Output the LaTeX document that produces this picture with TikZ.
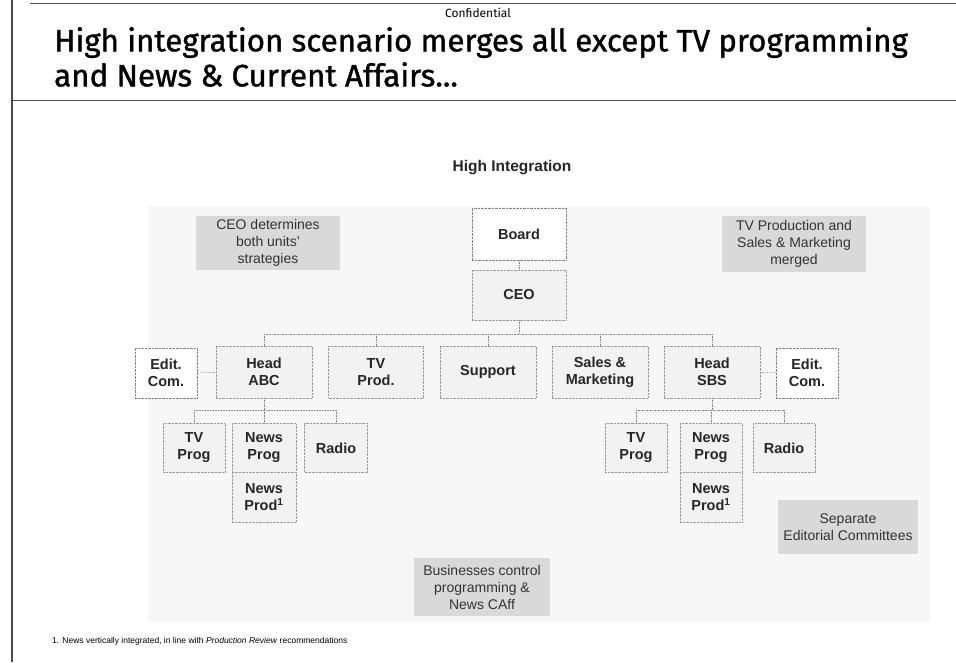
\documentclass[tikz,border=0pt]{standalone}
\usepackage{fontspec}
\setmainfont{Liberation Sans}
\newfontfamily\titlefont[FakeStretch=1.01,FakeBold=1.2]{Fira Sans}
\newfontfamily\conffont{Fira Sans}
\begin{document}
\begin{tikzpicture}[x=1pt,y=-1pt,
  unit/.style={draw=black!40, densely dotted, fill=black!5, text=black!85,
    font=\bfseries\fontsize{14.5}{17}\selectfont, align=center, inner sep=0pt},
  board/.style={draw=black!50, densely dotted, fill=white, text=black!85,
    font=\bfseries\fontsize{14.5}{17}\selectfont, align=center, inner sep=0pt},
  note/.style={fill=black!15, text=black!80, font=\fontsize{14}{17}\selectfont,
    align=center, inner sep=0pt},
  link/.style={draw=black!50, densely dotted, line width=0.6pt}]
\useasboundingbox (0,0) rectangle (956,662);
\fill[white] (0,0) rectangle (956,662);

% slide frame
\draw[black!70, line width=1pt] (30,3) -- (956,3);
\draw[black!70, line width=1.2pt] (12,0) -- (12,662);
\draw[black!70, line width=1pt] (12,100) -- (956,100);

% header
\node[font=\conffont\fontsize{12}{14}\selectfont] (conf) at (478,13) {Confidential};
\node[font=\titlefont\fontsize{31}{35}\selectfont, anchor=north west, align=left, inner sep=0pt]
  (title) at (54,27) {High integration scenario merges all except TV programming\\and News \& Current Affairs...};

% chart area
\fill[black!3] (148,207) rectangle (930,622);
\node[font=\bfseries\fontsize{15.5}{18}\selectfont, text=black!85] (heading) at (512,168) {High Integration};

% top of the chart
\node[board, minimum width=94, minimum height=52] (board) at (519,234) {Board};
\node[unit, minimum width=94, minimum height=50] (ceo) at (519,295) {CEO};

% second level
\node[unit, minimum width=96, minimum height=52] (habc) at (264,372) {Head\\ABC};
\node[unit, minimum width=95, minimum height=52] (tvprod) at (376,372) {TV\\Prod.};
\node[unit, minimum width=96, minimum height=52] (support) at (488,372) {Support};
\node[unit, minimum width=96, minimum height=52] (sales) at (600,372) {Sales \&\\Marketing};
\node[unit, minimum width=96, minimum height=52] (hsbs) at (712,372) {Head\\SBS};
\node[board, minimum width=62, minimum height=50] (edl) at (166,373) {Edit.\\Com.};
\node[board, minimum width=62, minimum height=50] (edr) at (807,373) {Edit.\\Com.};

% third level, ABC
\node[unit, minimum width=62, minimum height=49] (tvpl) at (194,448) {TV\\Prog};
\node[unit, minimum width=64, minimum height=49] (nprogl) at (264,448) {News\\Prog};
\node[unit, minimum width=64, minimum height=50] (nprodl) at (264,497) {News\\Prod\textsuperscript{1}};
\node[unit, minimum width=63, minimum height=49] (radl) at (336,448) {Radio};

% third level, SBS
\node[unit, minimum width=62, minimum height=49] (tvpr) at (636,448) {TV\\Prog};
\node[unit, minimum width=62, minimum height=49] (nprogr) at (711,448) {News\\Prog};
\node[unit, minimum width=62, minimum height=50] (nprodr) at (711,497) {News\\Prod\textsuperscript{1}};
\node[unit, minimum width=62, minimum height=49] (radr) at (784,448) {Radio};

% comment boxes
\node[note, minimum width=144, minimum height=54] (n1) at (268,243) {CEO determines\\both units'\\strategies};
\node[note, minimum width=144, minimum height=56] (n2) at (794,244) {TV Production and\\Sales \& Marketing\\merged};
\node[note, minimum width=140, minimum height=54] (n3) at (848,527) {Separate\\Editorial Committees};
\node[note, minimum width=136, minimum height=58] (n4) at (482,587) {Businesses control\\programming \&\\News CAff};

% connectors
\coordinate (bus) at (0,334);
\coordinate (busl) at (0,410);
\draw[link] (board) -- (ceo);
\draw[link] (ceo.south) -- (ceo.south |- bus);
\draw[link] (habc.north |- bus) -- (hsbs.north |- bus);
\foreach \n in {habc,tvprod,support,sales,hsbs}
  \draw[link] (\n.north |- bus) -- (\n.north);
\draw[link] (edl) -- (habc);
\draw[link] (edr) -- (hsbs);
\draw[link] (habc.south) -- (habc.south |- busl);
\draw[link] (tvpl.north |- busl) -- (radl.north |- busl);
\foreach \n in {tvpl,nprogl,radl}
  \draw[link] (\n.north |- busl) -- (\n.north);
\draw[link] (hsbs.south) -- (hsbs.south |- busl);
\draw[link] (tvpr.north |- busl) -- (radr.north |- busl);
\foreach \n in {tvpr,nprogr,radr}
  \draw[link] (\n.north |- busl) -- (\n.north);

% footnote
\node[font=\fontsize{8.5}{10}\selectfont, anchor=west, inner sep=0pt] (foot) at (52,641)
  {1. News vertically integrated, in line with \textit{Production Review} recommendations};
\end{tikzpicture}
\end{document}
